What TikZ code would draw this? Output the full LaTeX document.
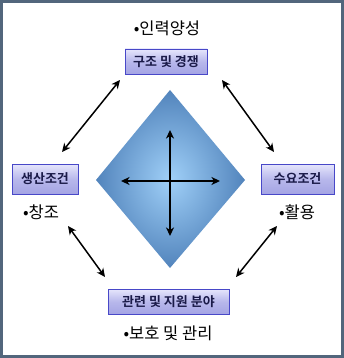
\documentclass[tikz,border=0pt]{standalone}
\usepackage{fontspec}
\usepackage{tikz}
\usetikzlibrary{arrows.meta}
\setmainfont{Noto Sans CJK KR}
\newfontfamily\krbold{Noto Sans CJK KR Bold}
\definecolor{framec}{HTML}{52667C}
\definecolor{boxline}{HTML}{4848C8}
\definecolor{boxtop}{HTML}{E6E6FC}
\definecolor{boxbot}{HTML}{A4A4E4}
\definecolor{boxtxt}{HTML}{1A1A48}
\definecolor{diain}{HTML}{A0D0F8}
\definecolor{diaout}{HTML}{5284BC}
\tikzset{
  dar/.style={{Stealth[length=3mm,width=2.8mm,inset=0.9mm]}-{Stealth[length=3mm,width=2.8mm,inset=0.9mm]},line width=1.5pt,black},
  lbox/.style={draw=boxline,line width=0.8pt,top color=boxtop,bottom color=boxbot,middle color=boxbot!70!boxtop,
    font=\krbold\fontsize{13}{14}\selectfont,text=boxtxt,inner sep=0pt,anchor=center},
  note/.style={font=\fontsize{16.5}{18}\selectfont,anchor=center}
}
\begin{document}
\begin{tikzpicture}[x=1pt,y=-1pt]
\useasboundingbox (0,0) rectangle (344,358);
\draw[framec,line width=3pt] (1.5,1.5) rectangle (342.5,356.5);
% diamond
\shade[inner color=diain,outer color=diaout] (170,90)--(245,180)--(170,268)--(96,180)--cycle;
% boxes
\node[lbox,minimum width=82pt,minimum height=25pt] (gj) at (166,61.5) {구조 및 경쟁};
\node[lbox,minimum width=66pt,minimum height=30pt] (ss) at (45,179) {생산조건};
\node[lbox,minimum width=73pt,minimum height=30pt] (sy) at (297.5,179) {수요조건};
\node[lbox,minimum width=121pt,minimum height=25pt] (gr) at (168.5,301.5) {관련 및 지원 분야};
% notes
\node[note] (n1) at (167,28) {•인력양성};
\node[note] (n2) at (41,212) {•창조};
\node[note] (n3) at (297,212) {•활용};
\node[note] (n4) at (168,333) {•보호 및 관리};
% connector ends
\coordinate (a1) at (120,80);  \coordinate (a2) at (62,152);
\coordinate (b1) at (222,80);  \coordinate (b2) at (274,152);
\coordinate (c1) at (68,226);  \coordinate (c2) at (105,277);
\coordinate (d1) at (277,226); \coordinate (d2) at (236,277);
\coordinate (v1) at (170,130); \coordinate (v2) at (170,236);
\coordinate (h1) at (121,181); \coordinate (h2) at (220,181);
\draw[dar] (a1)--(a2);
\draw[dar] (b1)--(b2);
\draw[dar] (c1)--(c2);
\draw[dar] (d1)--(d2);
\draw[dar] (v1)--(v2);
\draw[dar] (h1)--(h2);
\end{tikzpicture}
\end{document}
